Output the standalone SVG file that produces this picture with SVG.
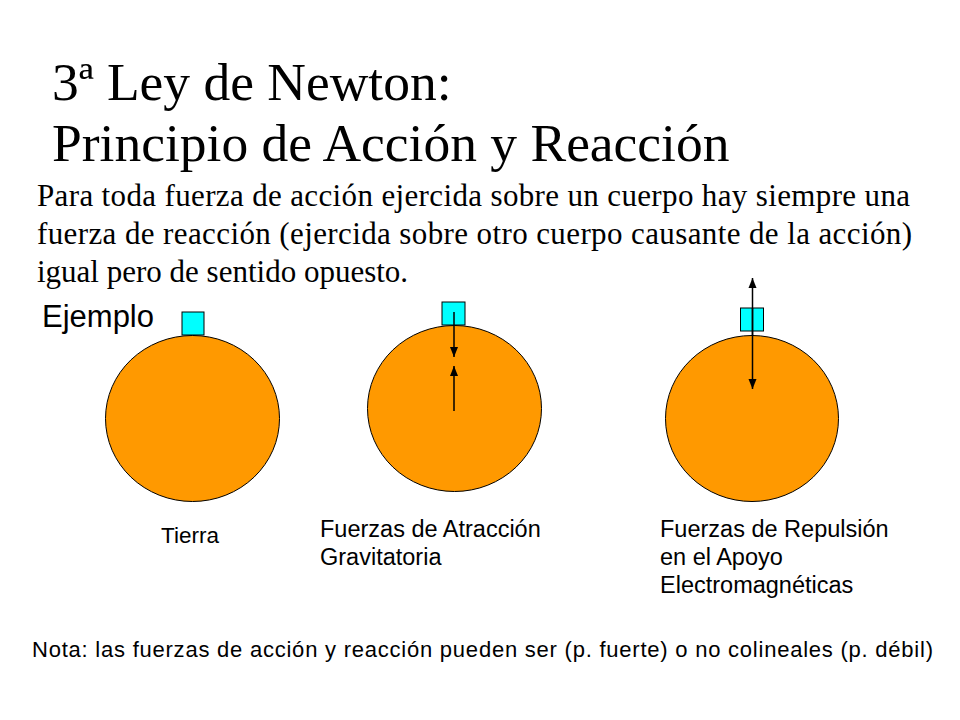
<svg xmlns="http://www.w3.org/2000/svg" width="960" height="720" viewBox="0 0 960 720">
<style>
.title{font-family:"Liberation Serif","Times New Roman",serif;font-size:53.5px;fill:#000}
.body{font-family:"Liberation Serif","Times New Roman",serif;font-size:31px;fill:#000}
.sans{font-family:"Liberation Sans",Arial,sans-serif;fill:#000}
.planet{fill:#FF9900;stroke:#000;stroke-width:1}
.block{fill:#00FFFF;stroke:#000;stroke-width:1}
.arrow{stroke:#000;stroke-width:1.5;fill:none;marker-end:url(#ah)}
</style>
<defs>
<marker id="ah" markerUnits="userSpaceOnUse" markerWidth="10" markerHeight="10" viewBox="0 0 10 10" refX="10" refY="5" orient="auto">
<path d="M0,1 L10,5 L0,9 Z" fill="#000"/>
</marker>
</defs>
<rect width="960" height="720" fill="#fff"/>
<g id="title">
<text class="title" x="52" y="100">3ª Ley de Newton:</text>
<text class="title" x="52" y="161">Principio de Acción y Reacción</text>
</g>
<g id="paragraph">
<text class="body" x="37" y="206" textLength="873" lengthAdjust="spacing">Para toda fuerza de acción ejercida sobre un cuerpo hay siempre una</text>
<text class="body" x="37" y="244" textLength="875" lengthAdjust="spacing">fuerza de reacción (ejercida sobre otro cuerpo causante de la acción)</text>
<text class="body" x="37" y="282">igual pero de sentido opuesto.</text>
</g>
<text id="ejemplo" class="sans" x="42" y="327" font-size="31">Ejemplo</text>
<g id="tierra">
<ellipse class="planet" cx="192.5" cy="418.5" rx="87" ry="83"/>
<rect class="block" x="182" y="312" width="22" height="23"/>
<text class="sans" x="161" y="543" font-size="22.5">Tierra</text>
</g>
<g id="atraccion">
<ellipse class="planet" cx="454.5" cy="408.5" rx="87" ry="83"/>
<rect class="block" x="442" y="302" width="23" height="23"/>
<text class="sans" x="320" y="537" font-size="23.5">Fuerzas de Atracción</text>
<text class="sans" x="320" y="565" font-size="23.5">Gravitatoria</text>
</g>
<g id="repulsion">
<ellipse class="planet" cx="752" cy="418.5" rx="86.5" ry="83"/>
<rect class="block" x="740.5" y="308" width="23" height="23"/>
<text class="sans" x="660" y="537" font-size="23.5">Fuerzas de Repulsión</text>
<text class="sans" x="660" y="565" font-size="23.5">en el Apoyo</text>
<text class="sans" x="660" y="593" font-size="23.5">Electromagnéticas</text>
</g>
<g id="connectors">
<line class="arrow" x1="454" y1="312" x2="454" y2="357"/>
<line class="arrow" x1="454" y1="411" x2="454" y2="366"/>
<line class="arrow" x1="752.5" y1="336" x2="752.5" y2="278"/>
<line class="arrow" x1="752.5" y1="308" x2="752.5" y2="389"/>
</g>
<text id="nota" class="sans" x="32" y="657" font-size="22" textLength="901" lengthAdjust="spacing">Nota: las fuerzas de acción y reacción pueden ser (p. fuerte) o no colineales (p. débil)</text>
</svg>
